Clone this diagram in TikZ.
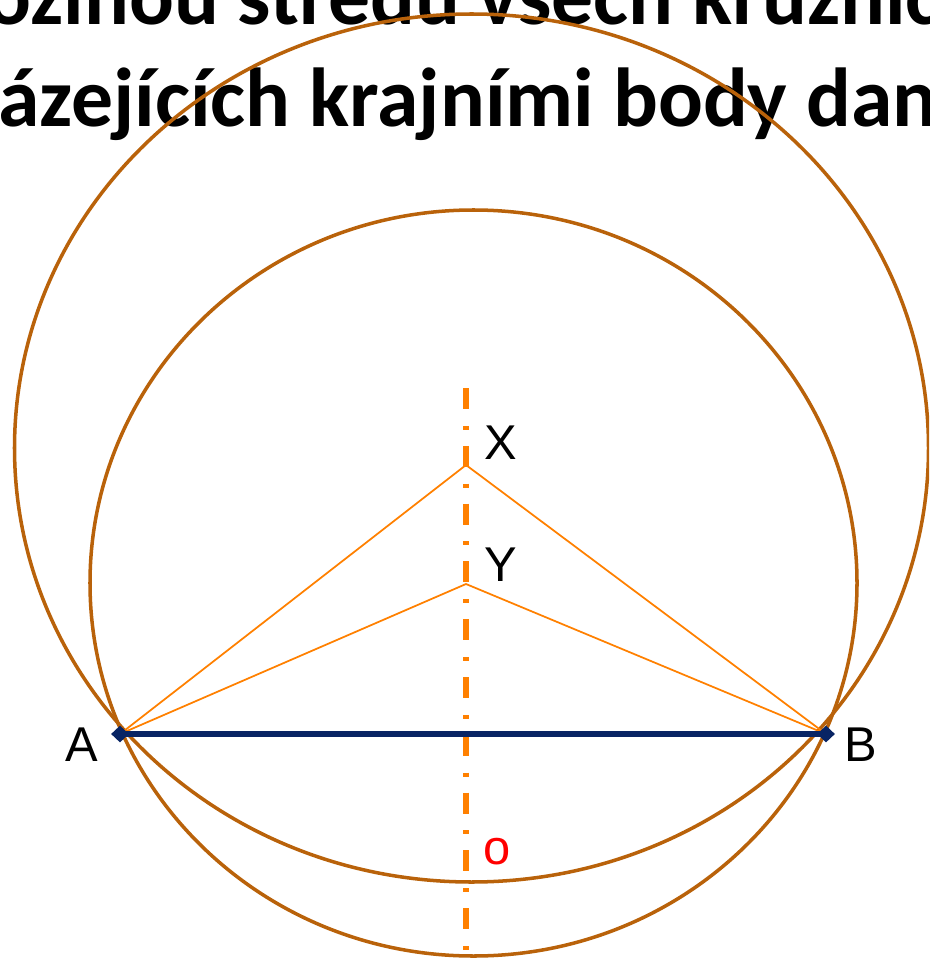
\documentclass[tikz,border=0pt]{standalone}
\usepackage{fontspec}
\newfontfamily\titlefont{Carlito}
\newfontfamily\lblfont{Liberation Sans}
\usetikzlibrary{shapes.geometric}
\definecolor{circbrown}{RGB}{185,98,10}
\definecolor{axisorange}{RGB}{255,128,0}
\definecolor{segnavy}{RGB}{8,36,100}

\begin{document}
\begin{tikzpicture}[
  x=0.02cm, y=-0.02cm,
  headline/.style={anchor=base west, inner sep=0pt, font=\titlefont\bfseries\fontsize{47.6}{57}\selectfont},
  ptlabel/.style={inner sep=0pt, font=\lblfont\fontsize{27.8}{33}\selectfont},
  circ/.style={draw=circbrown, line width=2pt},
  chord/.style={draw=axisorange, line width=1pt},
  axisline/.style={draw=axisorange, line width=3pt, dash pattern=on 11.9pt off 9.6pt on 2.3pt off 9.1pt},
  endmark/.style={diamond, fill=segnavy, inner sep=0pt, minimum width=0.36cm, minimum height=0.34cm}
]
\useasboundingbox (0,0) rectangle (929,959);
\clip (0,0) rectangle (929,959);

% headline, cut by the frame
\node[headline] (line1) at (-14,25) {ožinou středů všech kružnic};
\node[headline] (line2) at (-2,127) {ázejících krajními body daných};

% points
\coordinate (A) at (120,734);
\coordinate (B) at (826,734);
\coordinate (X) at (466,465);
\coordinate (Y) at (466,584);
\coordinate (otop) at (466,388);
\coordinate (obot) at (466,965);

% circles through A and B
\draw[circ] (471.5,448) ellipse [x radius=457, y radius=434];
\draw[circ] (473.5,583) ellipse [x radius=383.5, y radius=373];

% axis o
\draw[axisline] (otop) -- (obot);

% sides
\draw[chord] (A) -- (X) -- (B);
\draw[chord] (A) -- (Y) -- (B);

% segment AB
\draw[segnavy, line width=3.2pt] (A) -- (B);
\node[endmark] (Am) at (A) {};
\node[endmark] (Bm) at (B) {};

% labels
\node[ptlabel] (lA) at (82,745) {A};
\node[ptlabel] (lB) at (861,745) {B};
\node[ptlabel] (lX) at (501,443) {X};
\node[ptlabel] (lY) at (501,565) {Y};
\node[ptlabel, text=red] (lo) at (497,852) {o};
\end{tikzpicture}
\end{document}
